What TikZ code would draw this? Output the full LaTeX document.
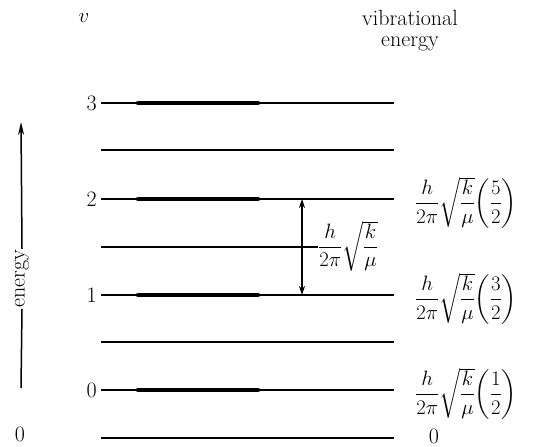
\documentclass[tikz,border=0pt]{standalone}
\usepackage{amsmath}
\usetikzlibrary{arrows.meta}
\begin{document}
\begin{tikzpicture}[x=1pt,y=-1pt,
  lvl/.style={line width=1.2pt},
  thick lvl/.style={line width=4.5pt,line cap=round},
  lab/.style={font=\fontsize{22}{23}\selectfont,inner sep=1pt},
  formula/.style={font=\fontsize{22}{23}\selectfont,inner sep=1pt,anchor=west},
  arr/.style={line width=1.5pt}]
\useasboundingbox (0,0) rectangle (534,446);
% levels
\foreach \n/\y in {l3/103,l25/150,l2/199,l1/295,l05/342,l0/390,lz/438}{
  \coordinate (\n a) at (101,\y);
  \coordinate (\n b) at (394,\y);
  \draw[lvl] (\n a) -- (\n b);
}
\foreach \n/\y in {t3/103,t2/199,t1/295,t0/390}{
  \coordinate (\n a) at (138,\y);
  \coordinate (\n b) at (258,\y);
  \draw[thick lvl] (\n a) -- (\n b);
}
% v labels
\node[lab,anchor=east] (n3) at (98,103) {3};
\node[lab,anchor=east] (n2) at (98,199) {2};
\node[lab,anchor=east] (n1) at (98,295) {1};
\node[lab,anchor=east] (n0) at (98,390) {0};
\node[lab] (v) at (84,18) {$v$};
\node[lab,align=center] (vib) at (410,31) {vibrational\\[-2pt]energy};
\node[lab] (zl) at (20,434) {0};
\node[lab] (zr) at (434,436) {0};
% energy arrow
\node[lab,rotate=90] (en) at (22,279) {energy};
\coordinate (ebot) at (21,388);
\coordinate (etop) at (21,122);
\draw[arr] (ebot) -- (en.west);
\draw[arr,-{Stealth[length=13pt,width=6pt]}] (en.east) -- (etop);
% spacing arrow
\coordinate (sa) at (302,199);
\coordinate (sb) at (302,295);
\draw[arr,{Stealth[length=9pt,width=6pt]}-{Stealth[length=9pt,width=6pt]}] (sa) -- (sb);
\node[formula,inner sep=0pt] (df) at (318,246) {$\dfrac{h}{2\pi}\sqrt{\dfrac{k}{\mu}}$};
\coordinate (l15a) at (101,247);
\draw[lvl] (l15a) -- (l15a -| df.west);
% energy formulas
\node[formula] (f2) at (414,203) {$\dfrac{h}{2\pi}\sqrt{\dfrac{k}{\mu}}\!\left(\dfrac{5}{2}\right)$};
\node[formula] (f1) at (414,299) {$\dfrac{h}{2\pi}\sqrt{\dfrac{k}{\mu}}\!\left(\dfrac{3}{2}\right)$};
\node[formula] (f0) at (414,394) {$\dfrac{h}{2\pi}\sqrt{\dfrac{k}{\mu}}\!\left(\dfrac{1}{2}\right)$};
\end{tikzpicture}
\end{document}
